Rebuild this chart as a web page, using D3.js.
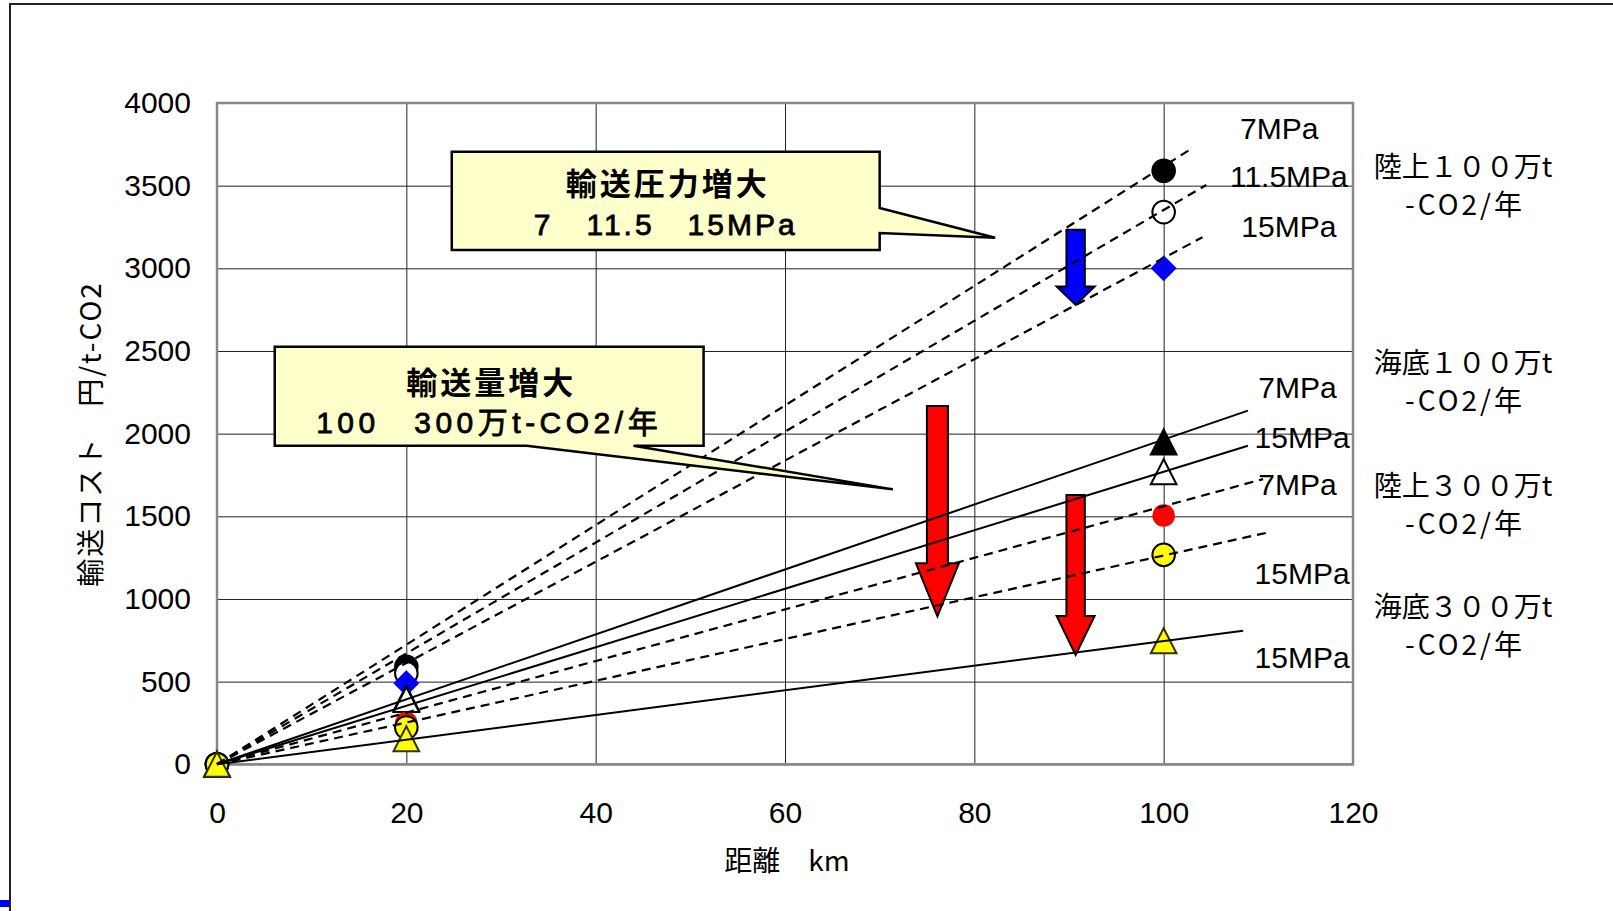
<!DOCTYPE html>
<html>
<head>
<meta charset="utf-8">
<script src="https://cdn.jsdelivr.net/npm/d3@7"></script>
<style>
  body { margin: 0; background: #fff; }
  svg { display: block; }
</style>
</head>
<body>
<svg id="chart" width="1613" height="911"></svg>
<script>
// distances (km) and cost per t-CO2 for each case
const distances = [0, 20, 100]
const land100at7 = [0, 590, 3590]
const land100at11 = [0, 550, 3340]
const land100at15 = [0, 490, 3000]
const sea100at7 = [0, 400, 1950]
const sea100at15 = [0, 392, 1770]
const land300at7 = [0, 250, 1505]
const land300at15 = [0, 222, 1267]
const sea300at15 = [0, 155, 747]

// where each trend line stops (drawn from the origin)
const trendEndX = [103.0, 104.5, 104.1, 108.9, 108.9, 110.5, 111.4, 108.4]
const trendEndY = [3726, 3504, 3188, 2139, 1927, 1725, 1407, 808]

const pressureLabels = ['7MPa', '11.5MPa', '15MPa', '7MPa', '15MPa', '7MPa', '15MPa', '15MPa']
const groupLabels = ['陸上１００万t', '海底１００万t', '陸上３００万t', '海底３００万t']
const groupSubLabel = '-CO2/年'

const xTicks = [0, 20, 40, 60, 80, 100, 120]
const yTicks = [0, 500, 1000, 1500, 2000, 2500, 3000, 3500, 4000]

const xTitle = '距離　km'
const yTitle = '輸送コスト　円/t-CO2'
const callout1 = ['輸送圧力増大', '7　11.5　15MPa']
const callout2 = ['輸送量増大', '100　300万t-CO2/年']

const LATIN = '"Liberation Sans", Arial, sans-serif'
const CJK = '"Noto Sans CJK JP", "Noto Sans", sans-serif'

const series = [
    { values: land100at7, shape: 'circle', fill: '#000', stroke: '#000', dash: '9,6' },
    { values: land100at11, shape: 'circle', fill: '#fff', stroke: '#000', dash: '9,6' },
    { values: land100at15, shape: 'diamond', fill: '#0000ff', stroke: 'none', dash: '9,6' },
    { values: sea100at7, shape: 'triangle', fill: '#000', stroke: '#000', dash: null },
    { values: sea100at15, shape: 'triangle', fill: '#fff', stroke: '#000', dash: null },
    { values: land300at7, shape: 'circle', fill: '#ff0000', stroke: 'none', dash: '9,6' },
    { values: land300at15, shape: 'circle', fill: '#ffff00', stroke: '#000', dash: '9,6' },
    { values: sea300at15, shape: 'triangle', fill: '#ffff00', stroke: '#333300', dash: null }
]

const svg = d3.select('#chart')
const margin = { left: 217, right: 260, top: 103, bottom: 146.7 }
const width = 1613
const height = 911

const x = d3.scaleLinear().domain([0, 120]).range([margin.left, width - margin.right])
const y = d3.scaleLinear().domain([0, 4000]).range([height - margin.bottom, margin.top])
const plotW = x(120) - x(0)
const plotH = y(0) - y(4000)

svg.append('rect').attr('width', width).attr('height', height).attr('fill', '#fff')

// outer frame of the screenshot
svg.append('path')
    .attr('d', `M10,${height} L10,4 L${width},4`)
    .attr('fill', 'none')
    .attr('stroke', '#222')
    .attr('stroke-width', 2)
svg.append('rect').attr('x', 0).attr('y', 900).attr('width', 9).attr('height', 7).attr('fill', '#0000ff')

// grid + axes
svg.append('g')
    .attr('transform', `translate(${margin.left},0)`)
    .call(d3.axisLeft(y).tickValues(yTicks).tickSize(-plotW).tickPadding(26).tickFormat(d3.format('d')))
    .call(g => g.select('.domain').remove())
    .call(g => g.selectAll('line').attr('stroke', '#222').attr('stroke-width', 1))
    .call(g => g.selectAll('text').attr('font-family', LATIN).attr('font-size', 30).attr('fill', '#000'))

svg.append('g')
    .attr('transform', `translate(0,${y(0)})`)
    .call(d3.axisBottom(x).tickValues(xTicks).tickSize(-plotH).tickPadding(37))
    .call(g => g.select('.domain').remove())
    .call(g => g.selectAll('line').attr('stroke', '#222').attr('stroke-width', 1))
    .call(g => g.selectAll('text').attr('font-family', LATIN).attr('font-size', 30).attr('fill', '#000'))

svg.append('rect')
    .attr('x', x(0)).attr('y', y(4000))
    .attr('width', plotW).attr('height', plotH)
    .attr('fill', 'none')
    .attr('stroke', '#888')
    .attr('stroke-width', 2.5)

svg.append('text')
    .attr('x', (x(0) + x(120)) / 2 + 2)
    .attr('y', 871)
    .attr('text-anchor', 'middle')
    .attr('font-family', CJK)
    .attr('font-size', 28)
    .text(xTitle)

svg.append('text')
    .attr('transform', `translate(101,${434}) rotate(-90)`)
    .attr('text-anchor', 'middle')
    .attr('font-family', CJK)
    .attr('font-size', 28)
    .attr('letter-spacing', 2)
    .text(yTitle)

// markers
const symbolPath = (shape) => {
    if (shape === 'diamond') return 'M0,-13L13,0L0,13L-13,0Z'
    if (shape === 'triangle') return 'M0,-12.5L12.8,12.5L-12.8,12.5Z'
    return d3.arc()({ innerRadius: 0, outerRadius: 11.3, startAngle: 0, endAngle: 2 * Math.PI })
}

const markers = svg.append('g')
series.forEach(s => {
    markers.append('g')
        .selectAll('path')
        .data(distances.map((d, i) => [d, s.values[i]]))
        .join('path')
        .attr('transform', d => `translate(${x(d[0])},${y(d[1])})`)
        .attr('d', symbolPath(s.shape))
        .attr('fill', s.fill)
        .attr('stroke', s.stroke)
        .attr('stroke-width', 2)
})

// arrows (annotation shapes), under the trend lines
const arrows = [
    { cx: 90.7, top: 3233, neck: 2890, tip: 2779, shaft: 9.2, head: 19, fill: '#0000ff' },
    { cx: 76.1, top: 2167, neck: 1216, tip: 895, shaft: 10.5, head: 21.5, fill: '#ff0000' },
    { cx: 90.7, top: 1629, neck: 897, tip: 661, shaft: 9.2, head: 19, fill: '#ff0000' }
]
svg.append('g')
    .selectAll('path')
    .data(arrows)
    .join('path')
    .attr('d', a => {
        const cx = x(a.cx)
        return `M${cx - a.shaft},${y(a.top)} L${cx + a.shaft},${y(a.top)} L${cx + a.shaft},${y(a.neck)}` +
            ` L${cx + a.head},${y(a.neck)} L${cx},${y(a.tip)} L${cx - a.head},${y(a.neck)}` +
            ` L${cx - a.shaft},${y(a.neck)} Z`
    })
    .attr('fill', a => a.fill)
    .attr('stroke', '#000')
    .attr('stroke-width', 2)
    .attr('stroke-linejoin', 'miter')

// trend lines
svg.append('g')
    .selectAll('line')
    .data(series)
    .join('line')
    .attr('x1', x(0))
    .attr('y1', y(0))
    .attr('x2', (d, i) => x(trendEndX[i]))
    .attr('y2', (d, i) => y(trendEndY[i]))
    .attr('stroke', '#000')
    .attr('stroke-width', d => d.dash ? 2.2 : 2)
    .attr('stroke-dasharray', d => d.dash)

// callouts
const drawCallout = (box, tail, lines) => {
    const x0 = x(box.x0), x1 = x(box.x1), y0 = y(box.y0), y1 = y(box.y1)
    let d
    if (tail.side === 'right') {
        d = `M${x0},${y0} L${x1},${y0} L${x1},${y(tail.a)} L${x(tail.tx)},${y(tail.ty)} L${x1},${y(tail.b)} L${x1},${y1} L${x0},${y1} Z`
    } else {
        d = `M${x0},${y0} L${x1},${y0} L${x1},${y1} L${x(tail.b)},${y1} L${x(tail.tx)},${y(tail.ty)} L${x(tail.a)},${y1} L${x0},${y1} Z`
    }
    const g = svg.append('g')
    g.append('path')
        .attr('d', d)
        .attr('fill', '#ffffcc')
        .attr('stroke', '#000')
        .attr('stroke-width', 2.5)
        .attr('stroke-linejoin', 'miter')
    const cx = (x0 + x1) / 2
    g.append('text')
        .attr('x', cx + 2).attr('y', box.base1)
        .attr('text-anchor', 'middle')
        .attr('font-family', CJK)
        .attr('font-weight', 'bold')
        .attr('font-size', 31)
        .attr('letter-spacing', 3)
        .text(lines[0])
    g.append('text')
        .attr('x', cx).attr('y', box.base2)
        .attr('text-anchor', 'middle')
        .attr('font-family', `"Liberation Sans", ${CJK}`)
        .attr('font-size', 30)
        .attr('letter-spacing', box.spacing)
        .attr('stroke', '#000')
        .attr('stroke-width', 0.8)
        .text(lines[1])
}

drawCallout({ x0: 24.8, x1: 70.0, y0: 3705, y1: 3111, base1: 195, base2: 235, spacing: 3 },
    { side: 'right', a: 3365, b: 3214, tx: 82.2, ty: 3185 }, callout1)
drawCallout({ x0: 6.1, x1: 51.4, y0: 2526, y1: 1927, base1: 394, base2: 433, spacing: 4.5 },
    { side: 'bottom', a: 32.7, b: 44.0, tx: 71.4, ty: 1663 }, callout2)

// pressure labels next to the line ends
const pressurePos = [
    [108.06, 3780], [107.0, 3490], [108.2, 3189], [110.0, 2214],
    [109.6, 1911], [110.0, 1629], [109.6, 1089], [109.6, 584]
]
svg.append('g')
    .selectAll('text')
    .data(pressureLabels)
    .join('text')
    .attr('x', (d, i) => x(pressurePos[i][0]))
    .attr('y', (d, i) => y(pressurePos[i][1]))
    .attr('font-family', LATIN)
    .attr('font-size', 30)
    .text(d => d)

// case labels on the right
const groupBase = [177, 373, 496, 617]
const groups = svg.append('g').attr('font-family', CJK).attr('font-size', 28).attr('text-anchor', 'middle')
groupLabels.forEach((t, i) => {
    groups.append('text').attr('x', 1463).attr('y', groupBase[i]).text(t)
    groups.append('text').attr('x', 1465).attr('y', groupBase[i] + 38).attr('letter-spacing', 3).text(groupSubLabel)
})
</script>
</body>
</html>
